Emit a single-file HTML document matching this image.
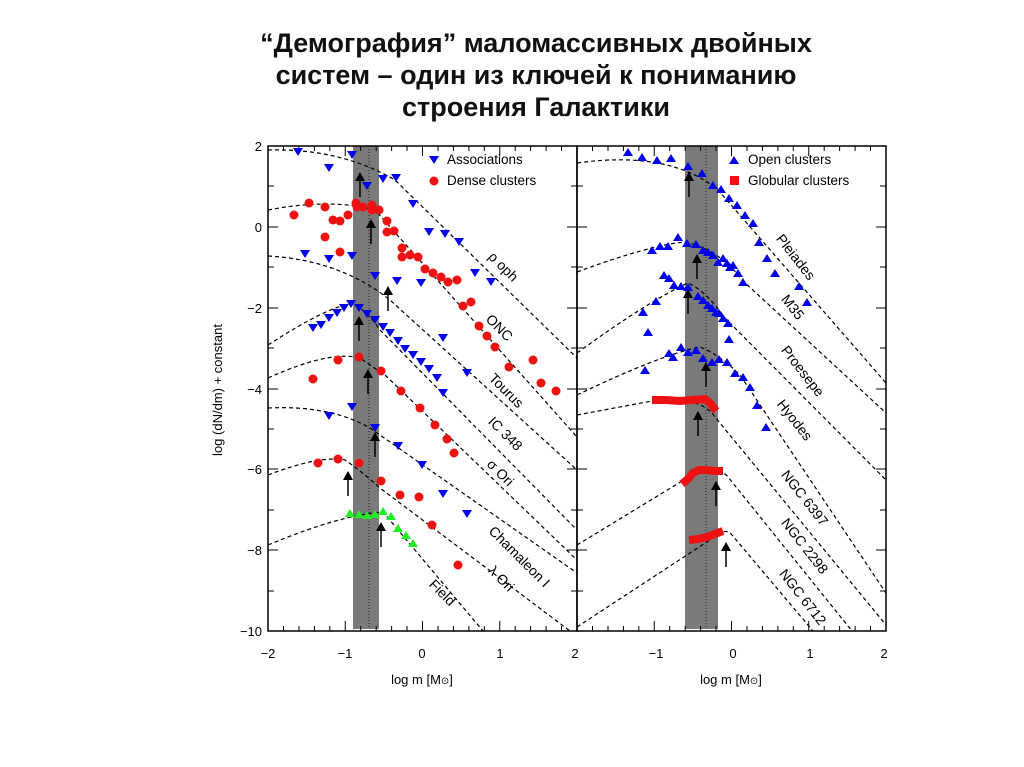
<!DOCTYPE html>
<html><head><meta charset="utf-8"><style>
body{margin:0;background:#fff;}
svg{display:block;font-family:"Liberation Sans",sans-serif;}
</style></head><body>
<svg width="1024" height="767" viewBox="0 0 1024 767" xmlns="http://www.w3.org/2000/svg">
<defs>
<path id="td" d="M-5,-4 L5,-4 L0,4 Z" fill="#0000ee"/>
<path id="tu" d="M-5,4 L5,4 L0,-4 Z" fill="#0000ee"/>
<path id="tg" d="M-5,4 L5,4 L0,-4 Z" fill="#22ee22"/>
<circle id="rc" r="4.5" fill="#ee1111"/>
<g id="ar"><line x1="0" y1="6" x2="0" y2="24" stroke="#000" stroke-width="1.5"/><path d="M-5,8 L5,8 L0,-1 Z" fill="#000"/></g>
</defs>
<g font-weight="bold" font-size="27" text-anchor="middle" fill="#111">
<text x="536" y="52">“Демография” маломассивных двойных</text>
<text x="536" y="84">систем – один из ключей к пониманию</text>
<text x="536" y="116">строения Галактики</text>
</g>
<rect x="353" y="146" width="26" height="483" fill="#7a7a7a"/>
<rect x="685" y="146" width="33" height="483" fill="#7a7a7a"/>
<line x1="369" y1="146" x2="369" y2="629" stroke="#222" stroke-dasharray="1,2"/>
<line x1="706" y1="146" x2="706" y2="629" stroke="#222" stroke-dasharray="1,2"/>
<rect x="268" y="146" width="309" height="485" fill="none" stroke="#000" stroke-width="1.5"/>
<rect x="577" y="146" width="309" height="485" fill="none" stroke="#000" stroke-width="1.5"/>
<g stroke="#000" stroke-width="1">
<path d="M268,146h10M268,186h6M268,227h10M268,267h6M268,308h10M268,348h6M268,389h10M268,429h6M268,469h10M268,510h6M268,550h10M268,591h6M268,631h10"/>
<path d="M577,146h-10M577,186h-6M577,227h-10M577,267h-6M577,308h-10M577,348h-6M577,389h-10M577,429h-6M577,469h-10M577,510h-6M577,550h-10M577,591h-6M577,631h-10"/>
<path d="M577,146h10M577,186h6M577,227h10M577,267h6M577,308h10M577,348h6M577,389h10M577,429h6M577,469h10M577,510h6M577,550h10M577,591h6M577,631h10"/>
<path d="M886,146h-10M886,186h-6M886,227h-10M886,267h-6M886,308h-10M886,348h-6M886,389h-10M886,429h-6M886,469h-10M886,510h-6M886,550h-10M886,591h-6M886,631h-10"/>
</g>
<g id="xt" stroke="#000" stroke-width="1">
<path d="M268,631v-10M345.25,631v-10M422.5,631v-10M499.75,631v-10M268,146v10M345.25,146v10M422.5,146v10M499.75,146v10"/>
<path d="M283.5,631v-5M299,631v-5M314.4,631v-5M329.8,631v-5M360.7,631v-5M376.2,631v-5M391.6,631v-5M407,631v-5M438,631v-5M453.4,631v-5M468.9,631v-5M484.3,631v-5M515.2,631v-5M530.6,631v-5M546.1,631v-5M561.5,631v-5"/>
<path d="M283.5,146v5M299,146v5M314.4,146v5M329.8,146v5M360.7,146v5M376.2,146v5M391.6,146v5M407,146v5M438,146v5M453.4,146v5M468.9,146v5M484.3,146v5M515.2,146v5M530.6,146v5M546.1,146v5M561.5,146v5"/>
</g>
<use href="#xt" x="309"/>
<g font-size="13" text-anchor="end" fill="#000">
<text x="262" y="151">2</text><text x="262" y="232">0</text><text x="262" y="313">−2</text><text x="262" y="394">−4</text><text x="262" y="474">−6</text><text x="262" y="555">−8</text><text x="262" y="636">−10</text>
</g>
<g font-size="13" text-anchor="middle" fill="#000">
<text x="268" y="658">−2</text><text x="345" y="658">−1</text><text x="422" y="658">0</text><text x="500" y="658">1</text><text x="575" y="658">2</text>
<text x="656" y="658">−1</text><text x="733" y="658">0</text><text x="810" y="658">1</text><text x="884" y="658">2</text>
<text x="422" y="684">log m [M<tspan font-size="10">⊙</tspan>]</text>
<text x="731" y="684">log m [M<tspan font-size="10">⊙</tspan>]</text>
<text transform="translate(222,390) rotate(-90)">log (dN/dm) + constant</text>
</g>
<g fill="none" stroke="#000" stroke-width="1.2" stroke-dasharray="4,3">
<path d="M268,150 Q340,148 395,180 L577,358"/>
<path d="M268,210 Q330,198 375,210 L577,437"/>
<path d="M268,256 Q340,260 390,300 L577,470"/>
<path d="M268,345 Q330,305 352,304 Q365,308 380,330 L577,530"/>
<path d="M268,378 Q330,350 360,358 Q370,365 385,375 L577,560"/>
<path d="M268,408 Q330,405 370,428 L577,573"/>
<path d="M268,475 Q320,455 345,460 Q360,470 380,488 L570,631"/>
<path d="M268,545 Q340,515 383,512 L483,631"/>
<path d="M577,163 Q670,150 718,190 L886,383"/>
<path d="M577,272 Q650,245 685,242 Q720,250 742,280 L886,413"/>
<path d="M577,353 Q650,300 688,283 Q705,290 725,318 L886,480"/>
<path d="M577,395 Q660,355 700,347 Q720,355 740,375 L886,593"/>
<path d="M577,415 L652,401 Q700,395 715,417 L886,625"/>
<path d="M577,545 L692,475 Q720,466 728,477 L852,631"/>
<path d="M577,627 L722,532 Q728,530 732,535 L813,631"/>
</g>
<g>
<use href="#td" x="298" y="152"/><use href="#td" x="329" y="168"/><use href="#td" x="352" y="155"/><use href="#td" x="367" y="186"/><use href="#td" x="383" y="179"/><use href="#td" x="396" y="178"/><use href="#td" x="413" y="204"/><use href="#td" x="429" y="232"/><use href="#td" x="445" y="234"/><use href="#td" x="459" y="242"/><use href="#td" x="475" y="273"/><use href="#td" x="491" y="282"/>
<use href="#td" x="305" y="254"/><use href="#td" x="329" y="259"/><use href="#td" x="352" y="256"/><use href="#td" x="375" y="276"/><use href="#td" x="397" y="281"/><use href="#td" x="421" y="283"/>
<use href="#td" x="313" y="328"/><use href="#td" x="321" y="325"/><use href="#td" x="329" y="318"/><use href="#td" x="337" y="313"/><use href="#td" x="344" y="308"/><use href="#td" x="351" y="304"/><use href="#td" x="359" y="308"/><use href="#td" x="367" y="314"/><use href="#td" x="375" y="320"/><use href="#td" x="383" y="327"/><use href="#td" x="390" y="333"/><use href="#td" x="398" y="341"/><use href="#td" x="405" y="349"/><use href="#td" x="413" y="355"/><use href="#td" x="421" y="362"/><use href="#td" x="429" y="369"/><use href="#td" x="437" y="378"/><use href="#td" x="443" y="393"/><use href="#td" x="443" y="338"/><use href="#td" x="467" y="373"/>
<use href="#td" x="329" y="416"/><use href="#td" x="352" y="407"/><use href="#td" x="375" y="428"/><use href="#td" x="398" y="446"/><use href="#td" x="422" y="465"/><use href="#td" x="443" y="494"/><use href="#td" x="467" y="514"/>
</g>
<g>
<use href="#rc" x="294" y="215"/><use href="#rc" x="309" y="203"/><use href="#rc" x="325" y="207"/><use href="#rc" x="333" y="220"/><use href="#rc" x="340" y="221"/><use href="#rc" x="348" y="215"/><use href="#rc" x="325" y="237"/><use href="#rc" x="340" y="252"/><use href="#rc" x="356" y="203"/><use href="#rc" x="357" y="207"/><use href="#rc" x="363" y="207"/><use href="#rc" x="372" y="205"/><use href="#rc" x="372" y="210"/><use href="#rc" x="379" y="210"/><use href="#rc" x="387" y="221"/><use href="#rc" x="387" y="232"/><use href="#rc" x="394" y="231"/><use href="#rc" x="402" y="248"/><use href="#rc" x="402" y="257"/><use href="#rc" x="410" y="255"/><use href="#rc" x="418" y="257"/><use href="#rc" x="425" y="269"/><use href="#rc" x="433" y="273"/><use href="#rc" x="441" y="277"/><use href="#rc" x="448" y="282"/><use href="#rc" x="457" y="280"/><use href="#rc" x="463" y="306"/><use href="#rc" x="471" y="302"/><use href="#rc" x="479" y="326"/><use href="#rc" x="487" y="336"/><use href="#rc" x="495" y="347"/><use href="#rc" x="509" y="367"/><use href="#rc" x="533" y="360"/><use href="#rc" x="541" y="383"/><use href="#rc" x="556" y="391"/>
<use href="#rc" x="338" y="360"/><use href="#rc" x="359" y="357"/><use href="#rc" x="313" y="379"/><use href="#rc" x="381" y="371"/><use href="#rc" x="401" y="391"/><use href="#rc" x="420" y="408"/><use href="#rc" x="435" y="425"/><use href="#rc" x="447" y="439"/><use href="#rc" x="454" y="453"/>
<use href="#rc" x="318" y="463"/><use href="#rc" x="338" y="459"/><use href="#rc" x="359" y="463"/><use href="#rc" x="381" y="481"/><use href="#rc" x="400" y="495"/><use href="#rc" x="419" y="497"/><use href="#rc" x="432" y="525"/><use href="#rc" x="458" y="565"/>
</g>
<g>
<use href="#tg" x="350" y="513"/><use href="#tg" x="359" y="514"/><use href="#tg" x="367" y="515"/><use href="#tg" x="375" y="514"/><use href="#tg" x="383" y="511"/><use href="#tg" x="391" y="516"/><use href="#tg" x="398" y="528"/><use href="#tg" x="406" y="535"/><use href="#tg" x="413" y="543"/>
</g>
<g>
<use href="#tu" x="628" y="152"/><use href="#tu" x="642" y="157"/><use href="#tu" x="657" y="160"/><use href="#tu" x="671" y="158"/><use href="#tu" x="688" y="166"/><use href="#tu" x="702" y="173"/><use href="#tu" x="713" y="185"/><use href="#tu" x="721" y="189"/><use href="#tu" x="729" y="198"/><use href="#tu" x="737" y="205"/><use href="#tu" x="745" y="215"/><use href="#tu" x="753" y="223"/><use href="#tu" x="759" y="242"/><use href="#tu" x="767" y="258"/><use href="#tu" x="775" y="273"/><use href="#tu" x="799" y="286"/><use href="#tu" x="807" y="302"/>
<use href="#tu" x="652" y="250"/><use href="#tu" x="660" y="246"/><use href="#tu" x="668" y="246"/><use href="#tu" x="678" y="237"/><use href="#tu" x="687" y="243"/><use href="#tu" x="696" y="244"/><use href="#tu" x="703" y="250"/><use href="#tu" x="708" y="252"/><use href="#tu" x="713" y="255"/><use href="#tu" x="718" y="262"/><use href="#tu" x="723" y="258"/><use href="#tu" x="727" y="263"/><use href="#tu" x="730" y="267"/><use href="#tu" x="733" y="265"/><use href="#tu" x="738" y="273"/><use href="#tu" x="743" y="282"/>
<use href="#tu" x="643" y="312"/><use href="#tu" x="648" y="332"/><use href="#tu" x="656" y="301"/><use href="#tu" x="664" y="275"/><use href="#tu" x="669" y="278"/><use href="#tu" x="674" y="285"/><use href="#tu" x="681" y="286"/><use href="#tu" x="688" y="287"/><use href="#tu" x="698" y="296"/><use href="#tu" x="703" y="300"/><use href="#tu" x="708" y="305"/><use href="#tu" x="712" y="308"/><use href="#tu" x="716" y="312"/><use href="#tu" x="719" y="313"/><use href="#tu" x="723" y="318"/><use href="#tu" x="728" y="323"/><use href="#tu" x="729" y="339"/>
<use href="#tu" x="645" y="370"/><use href="#tu" x="669" y="353"/><use href="#tu" x="673" y="357"/><use href="#tu" x="681" y="347"/><use href="#tu" x="688" y="352"/><use href="#tu" x="696" y="350"/><use href="#tu" x="703" y="358"/><use href="#tu" x="712" y="362"/><use href="#tu" x="719" y="359"/><use href="#tu" x="727" y="362"/><use href="#tu" x="735" y="373"/><use href="#tu" x="743" y="377"/><use href="#tu" x="750" y="387"/><use href="#tu" x="757" y="405"/><use href="#tu" x="766" y="427"/>
</g>
<g fill="none" stroke="#ee1111" stroke-width="8" stroke-linejoin="miter">
<path d="M652,400 L665,400 L680,401 L692,400 L705,399 L711,404 L716,411"/>
<path d="M682,484 L688,479 L693,473 L699,470 L706,470 L714,471 L723,471"/>
<path d="M689,540 L698,539 L707,537 L715,534 L723,531"/>
</g>
<use href="#ar" x="360" y="173"/><use href="#ar" x="371" y="220"/><use href="#ar" x="388" y="287"/><use href="#ar" x="359" y="317"/><use href="#ar" x="368" y="370"/><use href="#ar" x="375" y="433"/><use href="#ar" x="348" y="472"/><use href="#ar" x="381" y="523"/>
<use href="#ar" x="689" y="173"/><use href="#ar" x="697" y="255"/><use href="#ar" x="688" y="290"/><use href="#ar" x="706" y="363"/><use href="#ar" x="698" y="412"/><use href="#ar" x="716" y="482"/><use href="#ar" x="726" y="543"/>
<g font-size="13.5" fill="#000">
<use href="#td" x="434" y="160"/><text x="447" y="164">Associations</text>
<use href="#rc" x="434" y="181"/><text x="447" y="185">Dense clusters</text>
<use href="#tu" x="734" y="160"/><text x="748" y="164">Open clusters</text>
<rect x="730" y="176" width="9" height="9" fill="#ee1111"/><text x="748" y="185">Globular clusters</text>
</g>
<g font-size="14" fill="#000" text-anchor="middle">
<text transform="translate(500,270) rotate(45)">ρ oph</text>
<text transform="translate(496,331) rotate(45)">ONC</text>
<text transform="translate(503,394) rotate(45)">Tourus</text>
<text transform="translate(502,437) rotate(45)">IC 348</text>
<text transform="translate(497,476) rotate(45)">σ Ori</text>
<text transform="translate(516,560) rotate(45)">Chamaleon I</text>
<text transform="translate(498,582) rotate(45)">λ Ori</text>
<text transform="translate(439,596) rotate(45)">Field</text>
<text transform="translate(792,260) rotate(52)">Pleiades</text>
<text transform="translate(789,310) rotate(52)">M35</text>
<text transform="translate(799,374) rotate(52)">Proesepe</text>
<text transform="translate(791,423) rotate(52)">Hyodes</text>
<text transform="translate(801,501) rotate(52)">NGC 6397</text>
<text transform="translate(801,549) rotate(52)">NGC 2298</text>
<text transform="translate(799,600) rotate(52)">NGC 6712</text>
</g>
</svg>
</body></html>
